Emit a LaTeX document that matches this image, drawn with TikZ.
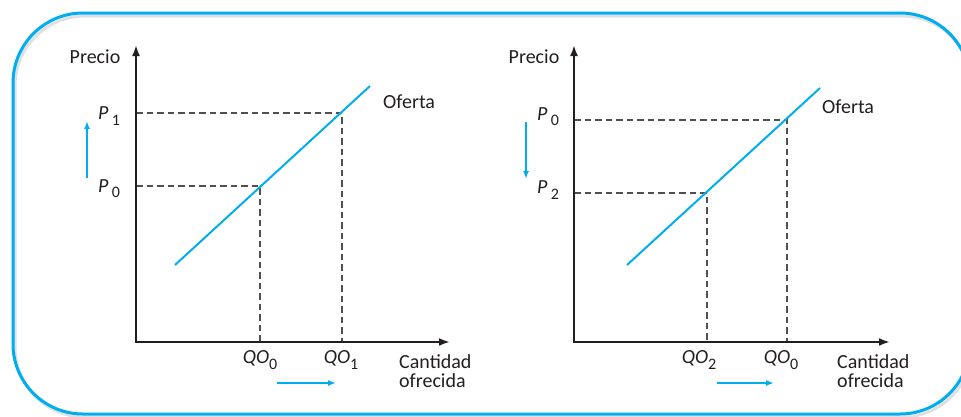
\documentclass[tikz,border=0pt]{standalone}
\usepackage{fontspec}
\setmainfont{Carlito}
\usetikzlibrary{arrows.meta}
\definecolor{cyanline}{RGB}{0,174,239}
\definecolor{axisc}{RGB}{35,31,32}
\definecolor{dashc}{RGB}{80,80,80}
\definecolor{textc}{RGB}{35,31,32}
\newcommand\mysub[1]{\raisebox{-0.55ex}{\fontsize{16}{16}\selectfont #1}}
\tikzset{
  axisline/.style={line width=2.4pt, draw=axisc, {Latex[length=11pt,width=8pt]}-{Latex[length=11pt,width=8pt]}},
  guide/.style={line width=1.4pt, draw=dashc, dash pattern=on 6.5pt off 4pt},
  supply/.style={line width=2pt, draw=cyanline},
  shiftarrow/.style={line width=1.6pt, draw=cyanline, -{Latex[length=8pt,width=6pt]}},
  lbl/.style={text=textc, font=\fontsize{20}{22}\selectfont, inner sep=0pt},
  frame/.style={line width=3pt, draw=cyanline, rounded corners=70pt},
}
\begin{document}
\begin{tikzpicture}[x=1pt,y=-1pt]
\useasboundingbox (0,0) rectangle (961,416);
\fill[white] (0,0) rectangle (961,416);
\begin{scope}
\clip (0,0) rectangle (961,416);
\draw[line width=3pt, draw=black, opacity=0.12, rounded corners=70pt] (15,16) rectangle (972,417);
\draw[frame] (13,13) rectangle (970,414);
\end{scope}

% ---------- left chart ----------
\coordinate (LO) at (136,342);
\coordinate (LY) at (136,45);
\coordinate (LX) at (450,342);
\coordinate (LA) at (260,186);
\coordinate (LB) at (342,113);
\draw[guide] (LO |- LB) -- (LB) -- (LB |- LO);
\draw[guide] (LO |- LA) -- (LA) -- (LA |- LO);
\draw[supply] (175,265) -- (370,86);
\draw[axisline] (LY) -- (LO) -- (LX);
\node[lbl] (lprecio) at (95,57) {Precio};
\node[lbl] (lp1) at (109,116) {\textit{P}\,\mysub{1}};
\node[lbl] (lp0) at (109,189) {\textit{P}\,\mysub{0}};
\node[lbl, anchor=west] (lof) at (383,102) {Oferta};
\node[lbl] (lq0) at (260,360) {\textit{QO}\mysub{0}};
\node[lbl] (lq1) at (341,360) {\textit{QO}\mysub{1}};
\node[lbl, anchor=west, align=left] (lcant) at (399,371) {Cantidad\\[-3pt]ofrecida};
\coordinate (la1) at (87,178);
\coordinate (la2) at (87,121);
\draw[shiftarrow] (la1) -- (la2);
\coordinate (lb1) at (277,383);
\coordinate (lb2) at (336,383);
\draw[shiftarrow] (lb1) -- (lb2);

% ---------- right chart ----------
\coordinate (RO) at (574,342);
\coordinate (RY) at (574,45);
\coordinate (RX) at (890,342);
\coordinate (RA) at (707,193);
\coordinate (RB) at (787,120);
\draw[guide] (RO |- RB) -- (RB) -- (RB |- RO);
\draw[guide] (RO |- RA) -- (RA) -- (RA |- RO);
\draw[supply] (627,265) -- (820,88);
\draw[axisline] (RY) -- (RO) -- (RX);
\node[lbl] (rprecio) at (534,57) {Precio};
\node[lbl] (rp0) at (548,117) {\textit{P}\,\mysub{0}};
\node[lbl] (rp2) at (548,190) {\textit{P}\,\mysub{2}};
\node[lbl, anchor=west] (rof) at (822,107) {Oferta};
\node[lbl] (rq2) at (699,360) {\textit{QO}\mysub{2}};
\node[lbl] (rq0) at (781,360) {\textit{QO}\mysub{0}};
\node[lbl, anchor=west, align=left] (rcant) at (837,371) {Cantidad\\[-3pt]ofrecida};
\coordinate (ra1) at (526,122);
\coordinate (ra2) at (526,179);
\draw[shiftarrow] (ra1) -- (ra2);
\coordinate (rb1) at (717,383);
\coordinate (rb2) at (774,383);
\draw[shiftarrow] (rb1) -- (rb2);
\end{tikzpicture}
\end{document}
